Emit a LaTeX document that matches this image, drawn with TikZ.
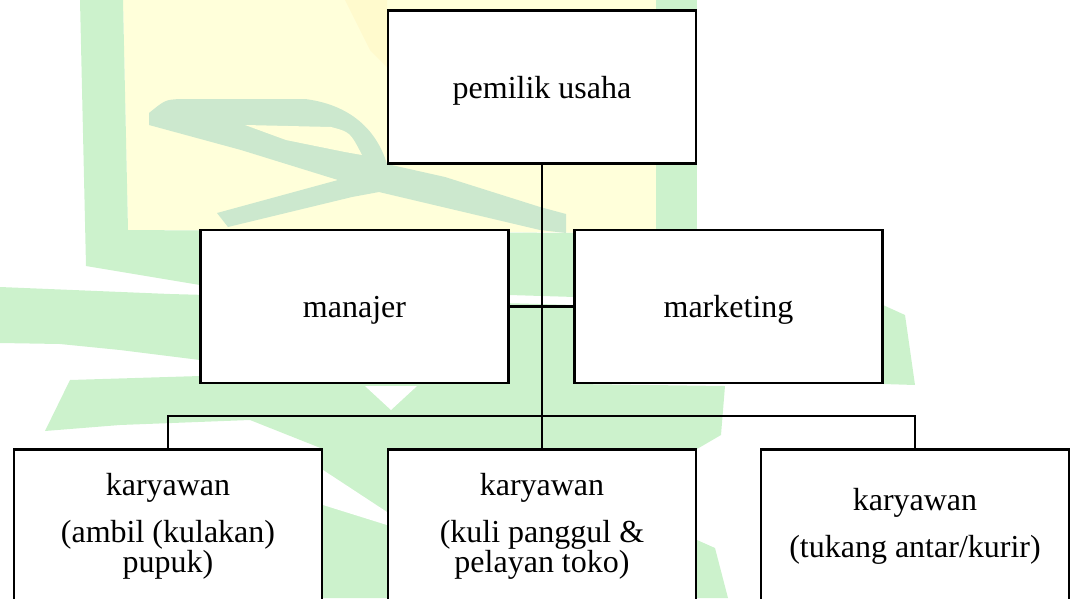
\documentclass[tikz,border=0pt]{standalone}
\usepackage{fontspec}
\setmainfont{Liberation Serif}
\definecolor{wmgreen}{RGB}{204,242,204}
\definecolor{wmleaf}{RGB}{204,232,206}
\definecolor{wmyellow}{RGB}{255,255,218}
\definecolor{wmyellow2}{RGB}{255,250,205}
\begin{document}
\begin{tikzpicture}[x=1pt,y=-1pt,
  box/.style={draw=black, line width=2.7pt, fill=white, minimum width=308pt,
    minimum height=153pt, inner sep=0pt, outer sep=0pt, align=center,
    font=\fontsize{32}{30}\selectfont},
  conn/.style={draw=black, line width=2.7pt},
  wmg/.style={fill=wmgreen, draw=none},
  wml/.style={fill=wmleaf, draw=none},
  wmy/.style={fill=wmyellow, draw=none},
  wmw/.style={fill=white, draw=none}]
\useasboundingbox (0,0) rectangle (1077,598);
\clip (0,0) rectangle (1077,598);
% ---- watermark (background logo) ----
\path[wmy] (123,0) -- (656,0) -- (656,233) -- (128,230) -- cycle;
\path[fill=wmyellow2] (345,0) -- (387,0) -- (387,67) -- (370,50) -- cycle;
\path[wmg] (80,0) -- (123,0) -- (128,230) -- (575,233) -- (575,297) -- (509,295)
  -- (200,285) -- (86,266) -- cycle;
\path[wmg] (656,0) -- (697,0) -- (697,233) -- (656,233) -- cycle;
\path[wmg] (0,287) -- (170,294) -- (575,305) -- (575,384) -- (725,386) -- (721,435)
  -- (697,449) -- (387,449) -- (387,598) -- (323,598) -- (323,449) -- (250,420)
  -- (120,425) -- (45,431) -- (70,380) -- (200,376) -- (200,360) -- (120,350)
  -- (60,344) -- (0,343) -- cycle;
\path[wmw] (365,386) -- (391,410) -- (417,386) -- cycle;
\path[wmw] (323,470) -- (387,512) -- (387,525) -- (323,505) -- cycle;
\path[wmg] (883,305) -- (905,315) -- (915,385) -- (883,384) -- cycle;
\path[wmg] (697,540) -- (715,548) -- (728,598) -- (697,598) -- cycle;
\path[wml] (149,113) .. controls (165,100) .. (179,99) -- (305,99)
  .. controls (345,104) and (375,125) .. (387,164) -- (445,177) -- (540,207)
  -- (566,214) -- (566,233) -- (540,230)
  -- (379,192) -- (352,197) -- (228,227) -- (217,213) -- (338,180) -- (241,150)
  -- (149,125) -- cycle;
\path[wmy] (245,125) -- (331,127) .. controls (350,132) .. (362,155) -- (345,152) -- (286,140) -- cycle;
% ---- boxes ----
\node[box, text height=22pt, text depth=0pt] (owner) at (542,87) {pemilik usaha};
\node[box, text height=22pt, text depth=1pt] (manajer) at (354.5,306.5) {manajer};
\node[box, text height=22pt, text depth=1pt] (marketing) at (728.5,306.5) {marketing};
\node[box] (k1) at (168,526) {karyawan\\[17pt](ambil (kulakan)\\pupuk)};
\node[box] (k2) at (542,526) {karyawan\\[17pt](kuli panggul \&\\pelayan toko)};
\node[box] (k3) at (915,526) {karyawan\\[17pt](tukang antar/kurir)};
% ---- connectors ----
\coordinate (bus) at (542,416);
\draw[conn] (owner.south) -- (k2.north);
\draw[conn] (manajer.east) -- (marketing.west);
\draw[conn] (k1.north) |- (bus) -| (k3.north);
\end{tikzpicture}
\end{document}
